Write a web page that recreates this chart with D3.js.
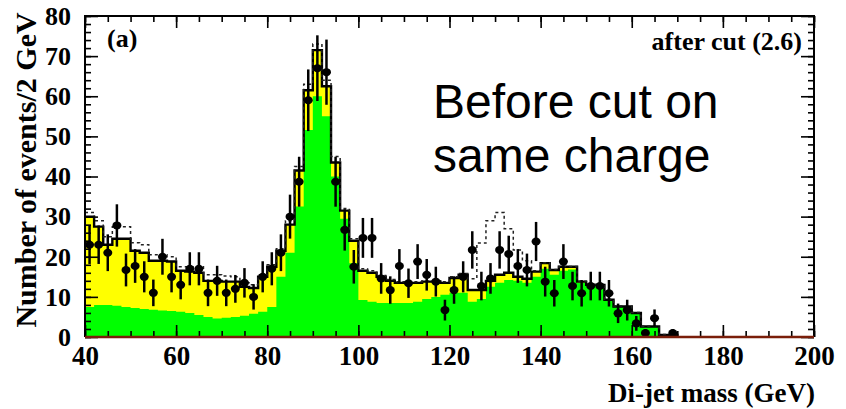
<!DOCTYPE html>
<html><head><meta charset="utf-8">
<script src="https://cdnjs.cloudflare.com/ajax/libs/d3/7.8.5/d3.min.js"></script>
<style>
html,body{margin:0;padding:0;background:#fff;}
svg{display:block;}
</style></head>
<body>
<svg id="chart" width="846" height="409"></svg>
<script>
// Bin lower edges (2 GeV bins)
const binStart = [40,42,44,46,48,50,52,54,56,58,60,62,64,66,68,70,72,74,76,78,80,82,84,86,88,90,92,94,96,98,100,102,104,106,108,110,112,114,116,118,120,122,124,126,128,130,132,134,136,138,140,142,144,146,148,150,152,154,156,158,160,162,164,166,168];
// Total MC (solid histogram, top of yellow)
const totalMC = [30,27.5,23,24.5,24.5,21.5,21,19,19,18.8,16.5,16.3,16,14,14,13.8,13.8,12.5,12.2,15,17.5,21.5,28,41.5,61.5,71.5,62.5,43.5,31.5,24,16.5,16,15,14,13.5,13.5,13.5,13.8,13.8,13.5,14.7,15.5,11.7,11.7,14,15.5,16,15,14.5,16.3,18.4,16.7,17.5,17.5,13.8,13,13,9.3,7.6,7.6,6,2.6,2.6,0.5,0.5];
// Green component
const greenMC = [7.5,8,8,7.8,7.5,7.2,7,6.8,6.6,6.5,6.3,6,5.5,5,4.6,4.8,5,5.3,5.8,6.3,7.5,15,21,32.5,51.6,60,55,40,29.5,18.4,9.2,8.8,8.5,8.5,8.5,8.5,8.8,9.5,10,10.5,11,11,8.8,9.5,12.5,13.5,14.2,14,13.5,15,17,15.5,16.5,16.8,13.5,12.8,12.8,9.2,7.5,7.5,5.9,2.5,2.5,0.4,0.4];
// Dotted histogram
const dottedMC = [31,29,25,27.5,27.5,23.5,23,20.5,20.5,20,17.5,17.5,17.5,15.5,15.5,15.2,15,13.5,13,15.5,18,22,29,42.5,63,73,64,45,32,24.5,17,16.5,15.3,14.3,13.8,13.8,13.8,14,14,13.8,15,15.8,14.5,23.4,29,31,27,21.7,19,16.5,18.5,16.8,17.6,17.6,13.9,13.1,13.1,9.4,7.7,7.7,6.1,2.7,2.7,0.6,0.6];
// Data points (events per bin), null = no point
const dataCounts = [23,23,21,27.8,16.7,17.7,15,11,20,15,13,17,17,11,14,11,12,13.5,10,15,17,21,30,38.7,59,67,66,38.7,26.7,17.5,24.7,24.7,14.6,11.7,17.7,13.4,18.8,15.5,13.8,6.7,11.7,15,21.7,12.7,14.6,21.7,20.7,17.7,16.7,23.8,13.8,10.9,18.8,12.7,10.9,12.7,12.7,10.9,5.9,6.7,3.4,1,4.7,null,1];
const xTicks = [40,60,80,100,120,140,160,180,200];
const yTicks = [0,10,20,30,40,50,60,70,80];
const binWidth = 2;

const svg = d3.select("#chart");
const L = 85, R = 814, T = 16, B = 337;
const x = d3.scaleLinear().domain([40,200]).range([L,R]);
const y = d3.scaleLinear().domain([0,80]).range([B,T]);

function stepPts(vals){
  const pts = binStart.map((s,i)=>[s, vals[i]]);
  const last = binStart[binStart.length-1] + binWidth;
  pts.push([last, vals[vals.length-1]]);
  return pts;
}
const area = d3.area().curve(d3.curveStepAfter).x(d=>x(d[0])).y0(y(0)).y1(d=>y(d[1]));
const line = d3.line().curve(d3.curveStepAfter).x(d=>x(d[0])).y(d=>y(d[1]));

const g = svg.append("g");
g.append("path").datum(stepPts(totalMC)).attr("d", area).attr("fill","#ffff00");
g.append("path").datum(stepPts(greenMC)).attr("d", area).attr("fill","#00ff00");

function closedPts(vals){
  const p = stepPts(vals);
  p.push([p[p.length-1][0], 0]);
  return p;
}
g.append("path").datum(closedPts(totalMC)).attr("d", line)
  .attr("fill","none").attr("stroke","#000").attr("stroke-width",2.4);
g.append("path").datum(closedPts(dottedMC)).attr("d", line)
  .attr("fill","none").attr("stroke","#222").attr("stroke-width",1.5).attr("stroke-dasharray","3,3");

// data points
const pts = binStart.map((s,i)=>({m:s+binWidth/2, n:dataCounts[i]})).filter(d=>d.n!==null);
const dp = g.append("g");
dp.selectAll("line.err").data(pts).enter().append("line")
  .attr("x1",d=>x(d.m)).attr("x2",d=>x(d.m))
  .attr("y1",d=>y(Math.max(0,d.n-Math.sqrt(d.n)))).attr("y2",d=>y(d.n+Math.sqrt(d.n)))
  .attr("stroke","#000").attr("stroke-width",2.5);
dp.selectAll("ellipse").data(pts).enter().append("ellipse")
  .attr("cx",d=>x(d.m)).attr("cy",d=>y(d.n)).attr("rx",4.5).attr("ry",4).attr("fill","#000");

// axes (inward ticks)
const tickFont = "'Liberation Serif','Times New Roman',serif";
function styleAxis(sel){ sel.select(".domain").remove(); sel.selectAll("line").attr("stroke","#000").attr("stroke-width",1.6); }
const minorX = d3.range(40,201,5), minorY = d3.range(0,81,2);

const ax = svg.append("g").attr("transform",`translate(0,${B})`)
  .call(d3.axisBottom(x).tickValues(xTicks).tickSize(-12).tickPadding(9).tickFormat(d3.format("d")));
styleAxis(ax);
ax.selectAll("text").attr("font-family",tickFont).attr("font-weight","bold").attr("font-size",27).attr("fill","#000");
styleAxis(svg.append("g").attr("transform",`translate(0,${B})`).call(d3.axisBottom(x).tickValues(minorX).tickSize(-6).tickFormat("")));
styleAxis(svg.append("g").attr("transform",`translate(0,${T})`).call(d3.axisTop(x).tickValues(xTicks).tickSize(-12).tickFormat("")));
styleAxis(svg.append("g").attr("transform",`translate(0,${T})`).call(d3.axisTop(x).tickValues(minorX).tickSize(-6).tickFormat("")));

const ay = svg.append("g").attr("transform",`translate(${L},0)`)
  .call(d3.axisLeft(y).tickValues(yTicks).tickSize(-13).tickPadding(14).tickFormat(d3.format("d")));
styleAxis(ay);
ay.selectAll("text").attr("font-family",tickFont).attr("font-weight","bold").attr("font-size",26).attr("fill","#000");
styleAxis(svg.append("g").attr("transform",`translate(${L},0)`).call(d3.axisLeft(y).tickValues(minorY).tickSize(-6).tickFormat("")));
styleAxis(svg.append("g").attr("transform",`translate(${R},0)`).call(d3.axisRight(y).tickValues(yTicks).tickSize(-13).tickFormat("")));
styleAxis(svg.append("g").attr("transform",`translate(${R},0)`).call(d3.axisRight(y).tickValues(minorY).tickSize(-6).tickFormat("")));

// frame
svg.append("path").attr("d",`M${L},${B}V${T}H${R}V${B}`).attr("fill","none").attr("stroke","#000").attr("stroke-width",2);
svg.append("line").attr("x1",L).attr("x2",R).attr("y1",B).attr("y2",B).attr("stroke","#7a1e0a").attr("stroke-width",2.4);

// titles
svg.append("text").attr("transform",`translate(36,170) rotate(-90)`)
  .attr("text-anchor","middle").attr("font-family",tickFont).attr("font-weight","bold").attr("font-size",30)
  .text("Number of events/2 GeV");
svg.append("text").attr("x",815).attr("y",402).attr("text-anchor","end")
  .attr("font-family",tickFont).attr("font-weight","bold").attr("font-size",27).text("Di-jet mass (GeV)");
svg.append("text").attr("x",107).attr("y",47).attr("font-family",tickFont).attr("font-weight","bold").attr("font-size",26).text("(a)");
svg.append("text").attr("x",802).attr("y",50).attr("text-anchor","end").attr("font-family",tickFont).attr("font-weight","bold").attr("font-size",26).text("after cut (2.6)");

const sans = "'Liberation Sans',Arial,sans-serif";
svg.append("text").attr("x",433).attr("y",118).attr("font-family",sans).attr("font-size",48).text("Before cut on");
svg.append("text").attr("x",433).attr("y",172).attr("font-family",sans).attr("font-size",48).text("same charge");
</script>
</body></html>
